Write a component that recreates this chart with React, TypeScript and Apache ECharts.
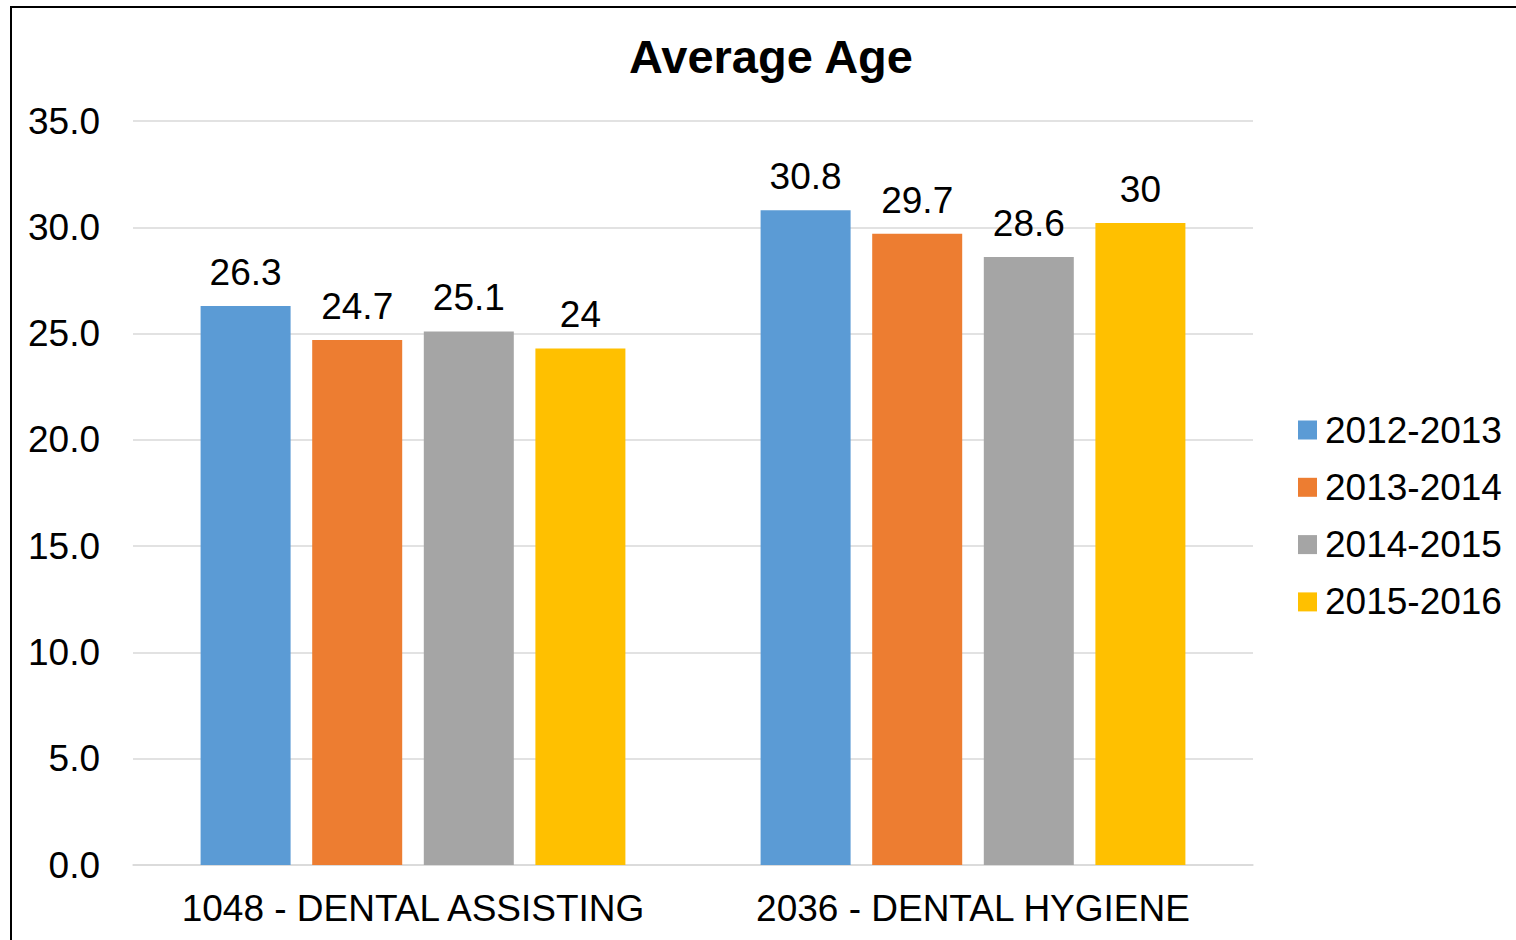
import React, { useEffect, useRef } from "react";
import * as echarts from "echarts";

const categories = ["1048 - DENTAL ASSISTING", "2036 - DENTAL HYGIENE"];
const seriesNames = ["2012-2013", "2013-2014", "2014-2015", "2015-2016"];
// bar heights
const values2012 = [26.3, 30.8];
const values2013 = [24.7, 29.7];
const values2014 = [25.1, 28.6];
const values2015 = [24.3, 30.2];
// data labels as printed on the chart
const labels2012 = ["26.3", "30.8"];
const labels2013 = ["24.7", "29.7"];
const labels2014 = ["25.1", "28.6"];
const labels2015 = ["24", "30"];
const colors = ["#5B9BD5", "#ED7D31", "#A5A5A5", "#FFC000"];
const yTicks = { min: 0, max: 35, interval: 5 };

const FONT = "'Liberation Sans', Arial, sans-serif";
const FS = 37;

export default function App() {
  const ref = useRef<HTMLDivElement>(null);
  useEffect(() => {
    if (!ref.current) return;
    const chart = echarts.init(ref.current, undefined, { renderer: "svg" });
    const allValues = [values2012, values2013, values2014, values2015];
    const allLabels = [labels2012, labels2013, labels2014, labels2015];
    chart.setOption({
      animation: false,
      backgroundColor: "#ffffff",
      textStyle: { fontFamily: FONT, color: "#000" },
      title: {
        text: "Average Age",
        left: 771,
        top: 33,
        padding: 0,
        textAlign: "center",
        textStyle: { fontFamily: FONT, fontSize: 47, lineHeight: 47, fontWeight: "bold", color: "#000" },
      },
      legend: {
        orient: "vertical",
        left: 1298,
        top: 411.5,
        padding: 0,
        itemWidth: 19,
        itemHeight: 19,
        itemGap: 20.3,
        icon: "rect",
        textStyle: { fontFamily: FONT, fontSize: FS, color: "#000", lineHeight: FS, padding: [0, 0, 0, 3] },
        data: seriesNames,
      },
      grid: { left: 133, right: 263, top: 121, bottom: 75, containLabel: false },
      xAxis: {
        type: "category",
        data: categories,
        axisTick: { show: false },
        axisLine: { show: true, lineStyle: { color: "#D9D9D9", width: 1.5 } },
        axisLabel: { interval: 0, fontFamily: FONT, fontSize: FS, lineHeight: FS, color: "#000", margin: 25 },
      },
      yAxis: {
        type: "value",
        min: yTicks.min,
        max: yTicks.max,
        interval: yTicks.interval,
        axisLine: { show: false },
        axisTick: { show: false },
        splitLine: { lineStyle: { color: "#D9D9D9", width: 1.5 } },
        axisLabel: {
          fontFamily: FONT,
          fontSize: FS,
          color: "#000",
          margin: 33,
          formatter: (v: number) => v.toFixed(1),
        },
      },
      graphic: [
        { type: "line", shape: { x1: 11, y1: 6, x2: 11, y2: 940 }, style: { stroke: "#000", lineWidth: 2 } },
        { type: "line", shape: { x1: 10, y1: 7, x2: 1516, y2: 7 }, style: { stroke: "#000", lineWidth: 2 } },
      ],
      series: seriesNames.map((name, i) => ({
        name,
        type: "bar",
        data: allValues[i],
        barWidth: 90,
        barGap: "24%",
        itemStyle: { color: colors[i] },
        label: {
          show: true,
          position: "top",
          distance: 15,
          fontFamily: FONT,
          fontSize: FS,
          lineHeight: FS,
          color: "#000",
          formatter: (p: any) => allLabels[i][p.dataIndex],
        },
      })),
    });
    return () => chart.dispose();
  }, []);
  return (
    <div style={{ position: "fixed", left: 0, top: 0, width: 1516, height: 940, overflow: "hidden" }}>
      <div ref={ref} style={{ width: 1516, height: 940 }} />
    </div>
  );
}
